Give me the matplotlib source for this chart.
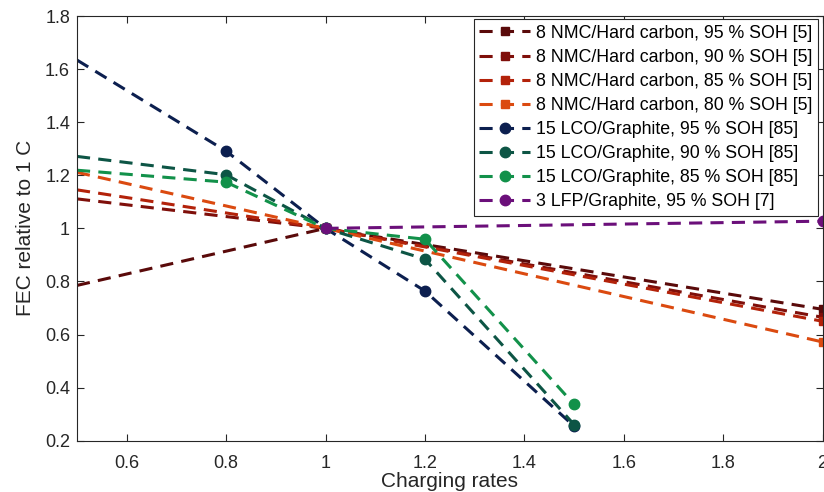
import matplotlib
matplotlib.use('Agg')
import matplotlib.pyplot as plt

plt.rcParams['font.family'] = ['Liberation Sans', 'DejaVu Sans']

# charging rates (C) and FEC relative to 1 C
x_nmc = [0.5, 1.0, 2.0]
nmc_95 = [0.785, 1.0, 0.695]
nmc_90 = [1.111, 1.0, 0.665]
nmc_85 = [1.145, 1.0, 0.650]
nmc_80 = [1.211, 1.0, 0.572]

x_lco = [0.5, 0.8, 1.0, 1.2, 1.5]
lco_95 = [1.634, 1.291, 1.0, 0.764, 0.255]
lco_90 = [1.271, 1.202, 1.0, 0.884, 0.261]
lco_85 = [1.219, 1.174, 1.0, 0.959, 0.337]

x_lfp = [1.0, 2.0]
lfp_95 = [1.0, 1.027]

labels = [
    '8 NMC/Hard carbon, 95 % SOH [5]',
    '8 NMC/Hard carbon, 90 % SOH [5]',
    '8 NMC/Hard carbon, 85 % SOH [5]',
    '8 NMC/Hard carbon, 80 % SOH [5]',
    '15 LCO/Graphite, 95 % SOH [85]',
    '15 LCO/Graphite, 90 % SOH [85]',
    '15 LCO/Graphite, 85 % SOH [85]',
    '3 LFP/Graphite, 95 % SOH [7]',
]

series = [
    (x_nmc, nmc_95, '#5a0a0a', 's'),
    (x_nmc, nmc_90, '#7f0f0a', 's'),
    (x_nmc, nmc_85, '#b3220a', 's'),
    (x_nmc, nmc_80, '#db4a10', 's'),
    (x_lco, lco_95, '#0c1f4f', 'o'),
    (x_lco, lco_90, '#0d5545', 'o'),
    (x_lco, lco_85, '#12914a', 'o'),
    (x_lfp, lfp_95, '#6b0f7a', 'o'),
]

fig = plt.figure(figsize=(8.24, 4.92), dpi=100)
ax = fig.add_axes([77 / 824, (492 - 440.7) / 492, (822.5 - 77) / 824, (440.7 - 16) / 492])

for (xs, ys, col, mk), lab in zip(series, labels):
    ms = 5.5 if mk == 's' else 7.5
    # first point of NMC/LCO lies on the left axis limit, no marker drawn there
    every = slice(1, None) if xs[0] < 1 else None
    ax.plot(xs, ys, linestyle='--', dashes=(4.3, 2.7), linewidth=2.2, color=col,
            marker=mk, markersize=ms, markerfacecolor=col, markeredgecolor=col,
            markevery=every, label=lab)

ax.set_xlim(0.5, 2.0)
ax.set_ylim(0.2, 1.8)
ax.set_xticks([0.6, 0.8, 1.0, 1.2, 1.4, 1.6, 1.8, 2.0])
ax.set_xticklabels(['0.6', '0.8', '1', '1.2', '1.4', '1.6', '1.8', '2'])
ax.set_yticks([0.2, 0.4, 0.6, 0.8, 1.0, 1.2, 1.4, 1.6, 1.8])
ax.set_yticklabels(['0.2', '0.4', '0.6', '0.8', '1', '1.2', '1.4', '1.6', '1.8'])

axis_col = '#262626'
for sp in ax.spines.values():
    sp.set_color(axis_col)
    sp.set_linewidth(0.8)
ax.tick_params(axis='both', direction='in', length=5, width=0.8, colors=axis_col,
               labelsize=13, top=True, right=True)
ax.tick_params(axis='x', pad=10)
ax.tick_params(axis='y', pad=5)

ax.set_xlabel('Charging rates', fontsize=15, color=axis_col, labelpad=0)
ax.set_ylabel('FEC relative to 1 C', fontsize=15, color=axis_col, labelpad=7)

leg = ax.legend(loc='upper right', bbox_to_anchor=(0.9933, 0.9922), borderaxespad=0,
                fontsize=12.8, handlelength=2.9, handletextpad=0.3, labelspacing=0.4,
                borderpad=0.3, fancybox=False, framealpha=1, edgecolor=axis_col,
                numpoints=1)
leg.get_frame().set_linewidth(0.8)

fig.savefig('out.png', dpi=100)
